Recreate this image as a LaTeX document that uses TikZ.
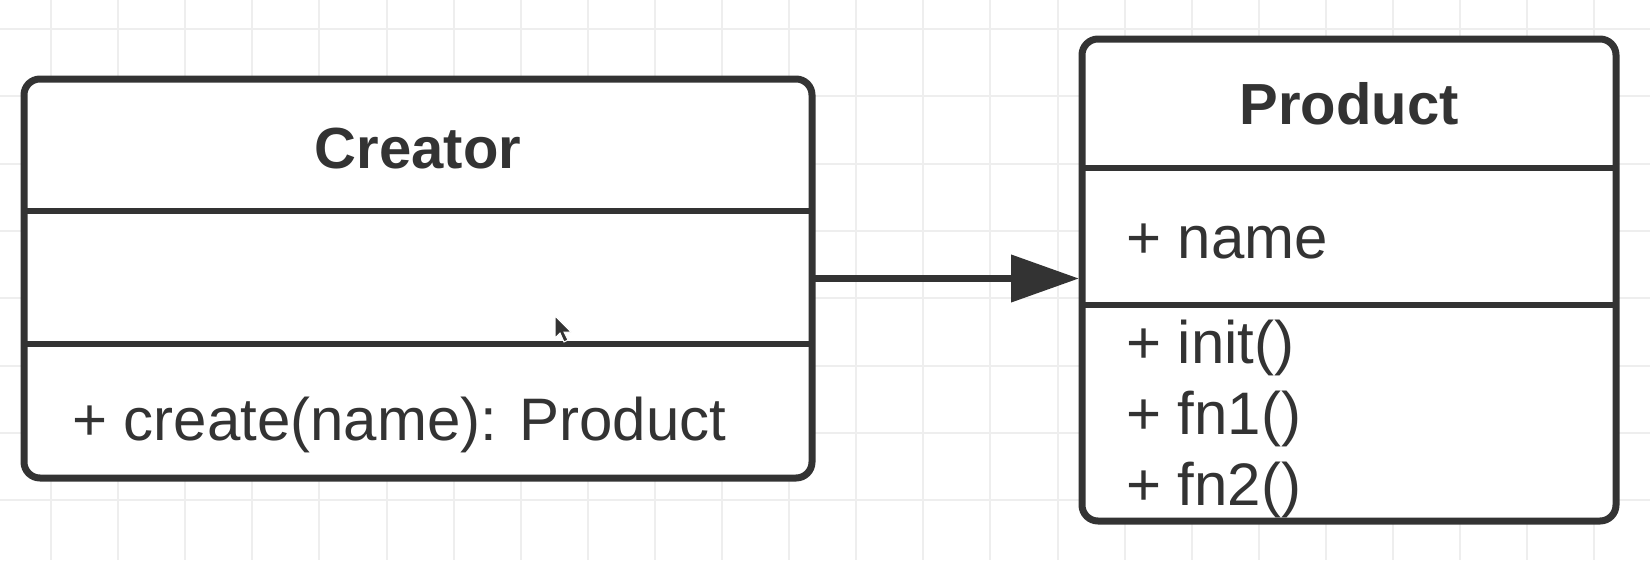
\documentclass[tikz,border=0pt]{standalone}
\usepackage{fontspec}
\setmainfont{Liberation Sans}
\usetikzlibrary{arrows.meta}
\definecolor{ink}{HTML}{333333}
\definecolor{gridc}{HTML}{EEEEEE}
\begin{document}
\begin{tikzpicture}[x=1pt,y=-1pt,
  umlbox/.style={draw=ink, line width=7pt, rounded corners=16pt, fill=white,
    inner sep=0pt, outer sep=0pt, anchor=north west},
  divider/.style={draw=ink, line width=6.5pt},
  title/.style={font=\fontsize{58}{60}\selectfont\bfseries, text=ink, inner sep=0pt, anchor=base},
  member/.style={font=\fontsize{60}{62}\selectfont, text=ink, inner sep=0pt, anchor=base west},
  link/.style={draw=ink, line width=7.5pt, -{Triangle[length=68pt,width=46pt]}, shorten >=3pt},
  gridline/.style={draw=gridc, line width=2pt},
  pointer/.style={fill=ink, draw=white, line width=1pt}]
\useasboundingbox (0,0) rectangle (1650,560);
\fill[white] (0,0) rectangle (1650,560);
\foreach \i in {0,...,23} \draw[gridline] (51+67.1*\i,0) -- (51+67.1*\i,560);
\foreach \j in {0,...,7} \draw[gridline] (0,29+67.3*\j) -- (1650,29+67.3*\j);
% Creator class
\node[umlbox, minimum width=788pt, minimum height=399pt] (creator) at (24,79) {};
\coordinate (cd1) at (0,211);
\coordinate (cd2) at (0,344);
\draw[divider] (creator.west |- cd1) -- (creator.east |- cd1);
\draw[divider] (creator.west |- cd2) -- (creator.east |- cd2);
\node[title] (ctitle) at (418,168) {Creator};
\node[member] (cmeth) at (72,440) {+ create(name): Product};
% Product class
\node[umlbox, minimum width=534pt, minimum height=482pt] (product) at (1082,39) {};
\coordinate (pd1) at (0,168);
\coordinate (pd2) at (0,305);
\draw[divider] (product.west |- pd1) -- (product.east |- pd1);
\draw[divider] (product.west |- pd2) -- (product.east |- pd2);
\node[title] (ptitle) at (1349,124) {Product};
\node[member] (pattr) at (1126,258) {+ name};
\node[member] (pm1) at (1126,363) {+ init()};
\node[member] (pm2) at (1126,434) {+ fn1()};
\node[member] (pm3) at (1126,505) {+ fn2()};
% association
\draw[link] (creator.east) -- (creator.east -| product.west);
% mouse pointer
\draw[pointer] (555,316) -- (555,338) -- (560,333) -- (564,342) -- (568,340) -- (564,332) -- (571,332) -- cycle;
\end{tikzpicture}
\end{document}
